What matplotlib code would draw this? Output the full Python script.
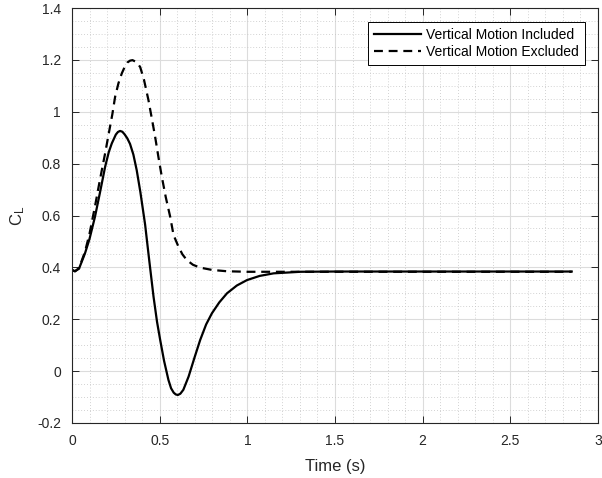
import matplotlib
matplotlib.use("Agg")
import matplotlib.pyplot as plt
from matplotlib.ticker import MultipleLocator

plt.rcParams['font.family'] = ['Liberation Sans', 'DejaVu Sans']
plt.rcParams['mathtext.fontset'] = 'custom'
plt.rcParams['mathtext.rm'] = 'Liberation Sans'
plt.rcParams['mathtext.it'] = 'Liberation Sans'

# Vertical Motion Included
t_inc = [0.000, 0.017, 0.04, 0.074, 0.10, 0.131, 0.16, 0.189, 0.21, 0.227, 0.25, 0.262, 0.274,
         0.287, 0.30, 0.315, 0.331, 0.35, 0.369, 0.39, 0.417, 0.44, 0.465, 0.485, 0.503, 0.525,
         0.55, 0.565, 0.58, 0.592, 0.604, 0.618, 0.635, 0.665, 0.70, 0.731, 0.765, 0.798, 0.84,
         0.884, 0.94, 0.998, 1.07, 1.15, 1.303, 1.5, 2.0, 2.5, 2.85]
cl_inc = [0.390, 0.385, 0.395, 0.454, 0.51, 0.595, 0.69, 0.788, 0.845, 0.878, 0.912, 0.922, 0.926,
          0.923, 0.913, 0.898, 0.876, 0.835, 0.775, 0.69, 0.565, 0.43, 0.287, 0.19, 0.12, 0.04,
          -0.034, -0.066, -0.083, -0.090, -0.092, -0.087, -0.072, -0.021, 0.055, 0.12, 0.18,
          0.223, 0.265, 0.300, 0.33, 0.351, 0.367, 0.377, 0.383, 0.384, 0.384, 0.384, 0.384]

# Vertical Motion Excluded
t_exc = [0.000, 0.017, 0.04, 0.074, 0.10, 0.131, 0.16, 0.189, 0.208, 0.23, 0.246, 0.265,
         0.284, 0.30, 0.316, 0.331, 0.345, 0.36, 0.375, 0.389, 0.41, 0.436, 0.455, 0.474, 0.493,
         0.512, 0.535, 0.56, 0.579, 0.607, 0.63, 0.655, 0.69, 0.731, 0.80, 0.884, 1.0, 1.5,
         2.0, 2.5, 2.85]
cl_exc = [0.390, 0.385, 0.397, 0.46, 0.53, 0.635, 0.74, 0.84, 0.91, 0.99, 1.058, 1.11,
          1.148, 1.172, 1.190, 1.197, 1.199, 1.194, 1.186, 1.172, 1.125, 1.045, 0.975, 0.904,
          0.825, 0.75, 0.67, 0.595, 0.525, 0.48, 0.45, 0.428, 0.41, 0.399, 0.39, 0.385, 0.383,
          0.383, 0.383, 0.383, 0.383]

x_ticks = [0, 0.5, 1, 1.5, 2, 2.5, 3]
x_labels = ['0', '0.5', '1', '1.5', '2', '2.5', '3']
y_ticks = [-0.2, 0, 0.2, 0.4, 0.6, 0.8, 1.0, 1.2, 1.4]
y_labels = ['-0.2', '0', '0.2', '0.4', '0.6', '0.8', '1', '1.2', '1.4']

fig = plt.figure(figsize=(6.02, 4.78), dpi=100)
ax = fig.add_axes([72/602, 55/478, 526/602, 415/478])

ax.plot(t_inc, cl_inc, color='black', linewidth=1.6, label='Vertical Motion Included')
ax.plot(t_exc, cl_exc, color='black', linewidth=1.6, dashes=(4, 2.6),
        label='Vertical Motion Excluded')

ax.set_xlim(0, 3)
ax.set_ylim(-0.2, 1.4)
ax.set_xticks(x_ticks)
ax.set_xticklabels(x_labels)
ax.set_yticks(y_ticks)
ax.set_yticklabels(y_labels)
ax.xaxis.set_minor_locator(MultipleLocator(0.1))
ax.yaxis.set_minor_locator(MultipleLocator(0.05))

ax.grid(which='major', color='#dcdcdc', linewidth=0.8, linestyle='-')
ax.grid(which='minor', color='#c4c4c4', linewidth=0.6, linestyle=(0, (1, 2.5)))
ax.set_axisbelow(True)

ax.tick_params(which='major', direction='in', length=5, width=0.7, colors='#262626',
               labelsize=10, top=True, right=True, pad=8)
ax.tick_params(which='minor', length=0, top=True, right=True)
for sp in ax.spines.values():
    sp.set_color('#262626')
    sp.set_linewidth(0.8)

ax.set_xlabel('Time (s)', fontsize=12, color='#262626', labelpad=8)
ax.set_ylabel(r'$\mathrm{C_L}$', fontsize=12, color='#262626', labelpad=7)

leg = ax.legend(loc='upper right', bbox_to_anchor=(0.975, 0.966), fontsize=10,
                handlelength=3.4, handletextpad=0.35, borderpad=0.45, labelspacing=0.2,
                fancybox=False, framealpha=1, edgecolor='black', borderaxespad=0)
leg.get_frame().set_linewidth(0.7)

fig.savefig('out.png', dpi=100)
